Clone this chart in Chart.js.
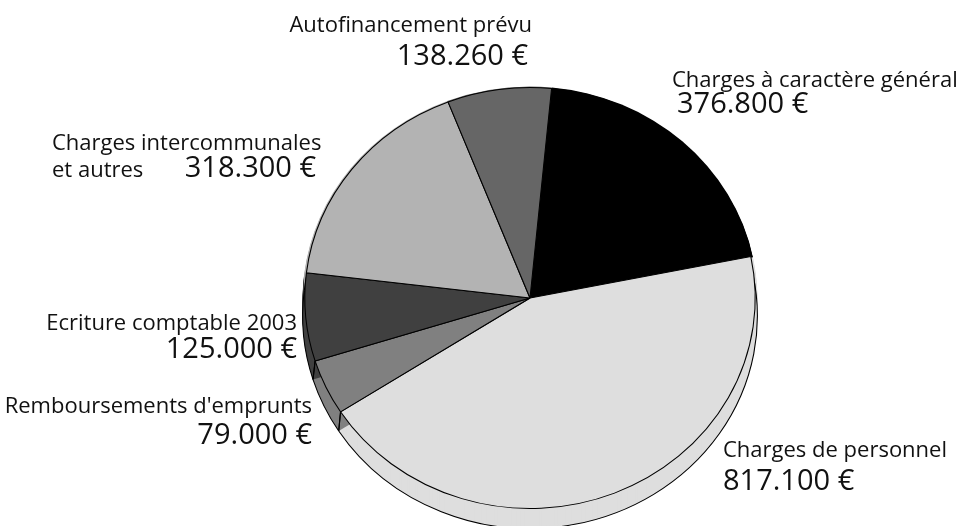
<!DOCTYPE html>
<html>
<head>
<meta charset="utf-8">
<script src="https://cdn.jsdelivr.net/npm/chart.js@4"></script>
<style>
    html, body { margin: 0; padding: 0; background: #fff; }
    #wrap { width: 971px; height: 526px; position: relative; }
</style>
</head>
<body>
<div id="wrap"><canvas id="budgetChart" width="971" height="526"></canvas></div>
<script>
// Data (clockwise from the top)
const categories = [
    'Charges à caractère général',
    'Charges de personnel',
    "Remboursements d'emprunts",
    'Ecriture comptable 2003',
    'Charges intercommunales et autres',
    'Autofinancement prévu'
];
const amounts = [376800, 817100, 79000, 125000, 318300, 138260];
const amountLabels = ['376.800 €', '817.100 €', '79.000 €', '125.000 €', '318.300 €', '138.260 €'];

const sliceColors = ['#000000', '#dedede', '#808080', '#404040', '#b3b3b3', '#666666'];

// where each label goes
const labelLayout = [
    { name: ['Charges à caractère général'], x: 672, y: 87, align: 'left', vx: 677, vy: 113, valign: 'left' },
    { name: ['Charges de personnel'], x: 723, y: 457, align: 'left', vx: 723, vy: 490, valign: 'left' },
    { name: ["Remboursements d'emprunts"], x: 312, y: 413, align: 'right', vx: 312, vy: 444, valign: 'right' },
    { name: ['Ecriture comptable 2003'], x: 297, y: 330, align: 'right', vx: 297, vy: 358, valign: 'right' },
    { name: ['Charges intercommunales', 'et autres'], x: 52, y: 150, lh: 27, align: 'left', vx: 316, vy: 177, valign: 'right' },
    { name: ['Autofinancement prévu'], x: 532, y: 32, align: 'right', vx: 528, vy: 65, valign: 'right' }
];

const STRETCH_X = 1.07;
const DEPTH = 18;
const FONT = '"Open Sans", "DejaVu Sans", sans-serif';

// stretch the pie horizontally and give it a thickness
const pie3d = {
    id: 'pie3d',
    beforeDatasetsDraw(chart) {
        const ctx = chart.ctx;
        const arcs = chart.getDatasetMeta(0).data;
        if (!arcs.length) return;
        const cx = arcs[0].x, cy = arcs[0].y;
        ctx.save();
        ctx.translate(cx, cy);
        ctx.scale(STRETCH_X, 1);
        ctx.translate(-cx, -cy);

        arcs.forEach((arc, i) => {
            const r = arc.outerRadius + 2;
            ctx.fillStyle = sliceColors[i];
            for (let k = DEPTH; k >= 1; k--) {
                ctx.beginPath();
                ctx.moveTo(cx, cy + k);
                ctx.arc(cx, cy + k, r, arc.startAngle, arc.endAngle);
                ctx.closePath();
                ctx.fill();
            }
        });
        ctx.strokeStyle = '#000';
        ctx.lineWidth = 1;
        arcs.forEach(arc => {
            const r = arc.outerRadius + 2;
            ctx.beginPath();
            ctx.arc(cx, cy + DEPTH, r, arc.startAngle, arc.endAngle);
            ctx.stroke();
            [arc.startAngle, arc.endAngle].forEach(a => {
                if (Math.sin(a) > 0) {
                    ctx.beginPath();
                    ctx.moveTo(cx + Math.cos(a) * arc.outerRadius, cy + Math.sin(a) * arc.outerRadius);
                    ctx.lineTo(cx + Math.cos(a) * r, cy + DEPTH + Math.sin(a) * r);
                    ctx.stroke();
                }
            });
        });
    },
    afterDatasetsDraw(chart) {
        chart.ctx.restore();
    }
};

const sliceLabels = {
    id: 'sliceLabels',
    afterDraw(chart) {
        const ctx = chart.ctx;
        ctx.save();
        ctx.fillStyle = '#111';
        ctx.textBaseline = 'alphabetic';
        labelLayout.forEach((lab, i) => {
            ctx.font = '22px ' + FONT;
            ctx.textAlign = lab.align;
            lab.name.forEach((line, j) => {
                ctx.fillText(line, lab.x, lab.y + j * (lab.lh || 0));
            });
            ctx.font = '29px ' + FONT;
            ctx.textAlign = lab.valign;
            ctx.fillText(amountLabels[i], lab.vx, lab.vy);
        });
        ctx.restore();
    }
};

new Chart(document.getElementById('budgetChart'), {
    type: 'pie',
    data: {
        labels: categories,
        datasets: [{
            data: amounts,
            backgroundColor: sliceColors,
            borderColor: '#000',
            borderWidth: 1,
            clip: false
        }]
    },
    options: {
        responsive: false,
        animation: false,
        rotation: 5.5,
        layout: {
            padding: { top: 87, bottom: 17, left: 319, right: 230 }
        },
        plugins: {
            legend: { display: false },
            tooltip: { enabled: false }
        }
    },
    plugins: [pie3d, sliceLabels]
});
</script>
</body>
</html>
